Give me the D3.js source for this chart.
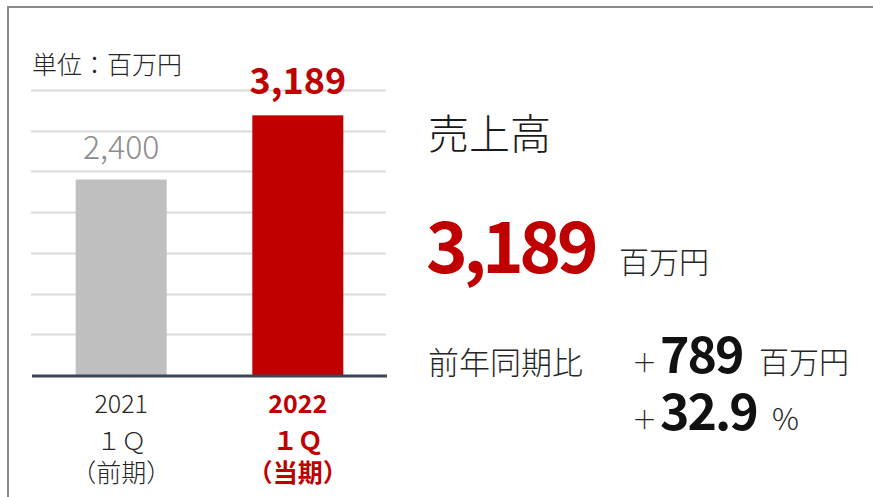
<!DOCTYPE html>
<html>
<head>
<meta charset="utf-8">
<script src="https://cdn.jsdelivr.net/npm/d3@7"></script>
<style>
  body { margin: 0; background: #fff; }
  text { font-family: "Noto Sans CJK JP", "Noto Sans", sans-serif; }
</style>
</head>
<body>
<div id="chart"></div>
<script>
// data
const periods = ["2021", "2022"];
const quarterLabels = ["１Ｑ", "１Ｑ"];
const periodTags = ["（前期）", "（当期）"];
const sales = [2400, 3189];
const gridTicks = [0, 500, 1000, 1500, 2000, 2500, 3000, 3500];
const unitLabel = "単位：百万円";
const title = "売上高";
const current = "3,189";
const diffAmount = "789";
const diffRate = "32.9";

const barColors = ["#bfbfbf", "#c00000"];
const labelColors = ["#8c8c8c", "#c00000"];
const catColors = ["#262626", "#c00000"];

const W = 873, H = 497;
const svg = d3.select("#chart").append("svg")
    .attr("width", W).attr("height", H);

// frame (top + left only)
svg.append("line").attr("x1", 7).attr("x2", W).attr("y1", 7).attr("y2", 7)
    .attr("stroke", "#8a8a8a").attr("stroke-width", 2);
svg.append("line").attr("x1", 8).attr("x2", 8).attr("y1", 6).attr("y2", H)
    .attr("stroke", "#8a8a8a").attr("stroke-width", 2);

// scales
const x = d3.scaleBand().domain(periods).range([32, 387]).paddingInner(0.93).paddingOuter(0.47);
const y = d3.scaleLinear().domain([0, 3500]).range([375, 90]);
const cx = d => x(d) + x.bandwidth() / 2;

// gridlines
svg.append("g").selectAll("line").data(gridTicks.slice(1)).enter().append("line")
    .attr("x1", 31).attr("x2", 386)
    .attr("y1", d => Math.round(y(d)) + 0.5).attr("y2", d => Math.round(y(d)) + 0.5)
    .attr("stroke", "#d9d9d9").attr("stroke-width", 2);

// bars
const bw = 91;
svg.append("g").selectAll("rect").data(sales).enter().append("rect")
    .attr("x", (d, i) => cx(periods[i]) - bw / 2)
    .attr("width", bw)
    .attr("y", d => y(d))
    .attr("height", d => y(0) - y(d))
    .attr("fill", (d, i) => barColors[i]);

// axis line
svg.append("line").attr("x1", 32).attr("x2", 387).attr("y1", 376).attr("y2", 376)
    .attr("stroke", "#3a4658").attr("stroke-width", 3);

// value labels
svg.append("g").selectAll("text").data(sales).enter().append("text")
    .attr("x", (d, i) => cx(periods[i]))
    .attr("y", d => y(d) - 21)
    .attr("text-anchor", "middle")
    .attr("font-size", (d, i) => i ? 36 : 32)
    .attr("font-weight", (d, i) => i ? 700 : 300)
    .attr("fill", (d, i) => labelColors[i])
    .text(d3.format(","));

// category labels, three lines each
const catLines = [
  {y: 413, text: i => periods[i]},
  {y: 450, text: i => quarterLabels[i]},
  {y: 482, text: i => periodTags[i]}
];
catLines.forEach(line => {
  svg.append("g").selectAll("text").data(periods).enter().append("text")
      .attr("x", d => cx(d))
      .attr("y", line.y)
      .attr("text-anchor", "middle")
      .attr("font-size", 25)
      .attr("font-weight", (d, i) => i ? 700 : 300)
      .attr("fill", (d, i) => catColors[i])
      .text((d, i) => line.text(i));
});

// unit label
svg.append("text").attr("x", 32).attr("y", 74).attr("font-size", 25).attr("font-weight", 300)
    .attr("fill", "#262626").text(unitLabel);

// right side summary
svg.append("text").attr("x", 428).attr("y", 149).attr("font-size", 41).attr("font-weight", 300)
    .attr("fill", "#1a1a1a").text(title);
svg.append("text").attr("x", 426).attr("y", 273).attr("font-size", 71).attr("font-weight", 700)
    .attr("fill", "#c00000").attr("letter-spacing", -4.5).text(current);
svg.append("text").attr("x", 619).attr("y", 273).attr("font-size", 30).attr("font-weight", 300)
    .attr("fill", "#262626").text("百万円");

svg.append("text").attr("x", 428).attr("y", 374).attr("font-size", 31).attr("font-weight", 300)
    .attr("fill", "#262626").text("前年同期比");

// difference rows
const rows = [
  {y: 373, value: diffAmount, unit: "百万円", ux: 759},
  {y: 430, value: diffRate, unit: "%", ux: 772}
];
const g = svg.append("g").selectAll("g").data(rows).enter().append("g");
g.append("text").attr("x", 632).attr("y", d => d.y - 1)
    .attr("font-size", 25).attr("font-weight", 300).attr("fill", "#262626").text("＋");
g.append("text").attr("x", 660).attr("y", d => d.y)
    .attr("font-size", 50).attr("font-weight", 700).attr("letter-spacing", -2)
    .attr("fill", "#111").text(d => d.value);
g.append("text").attr("x", d => d.ux).attr("y", d => d.y)
    .attr("font-size", 30).attr("font-weight", 300).attr("fill", "#262626").text(d => d.unit);
</script>
</body>
</html>
